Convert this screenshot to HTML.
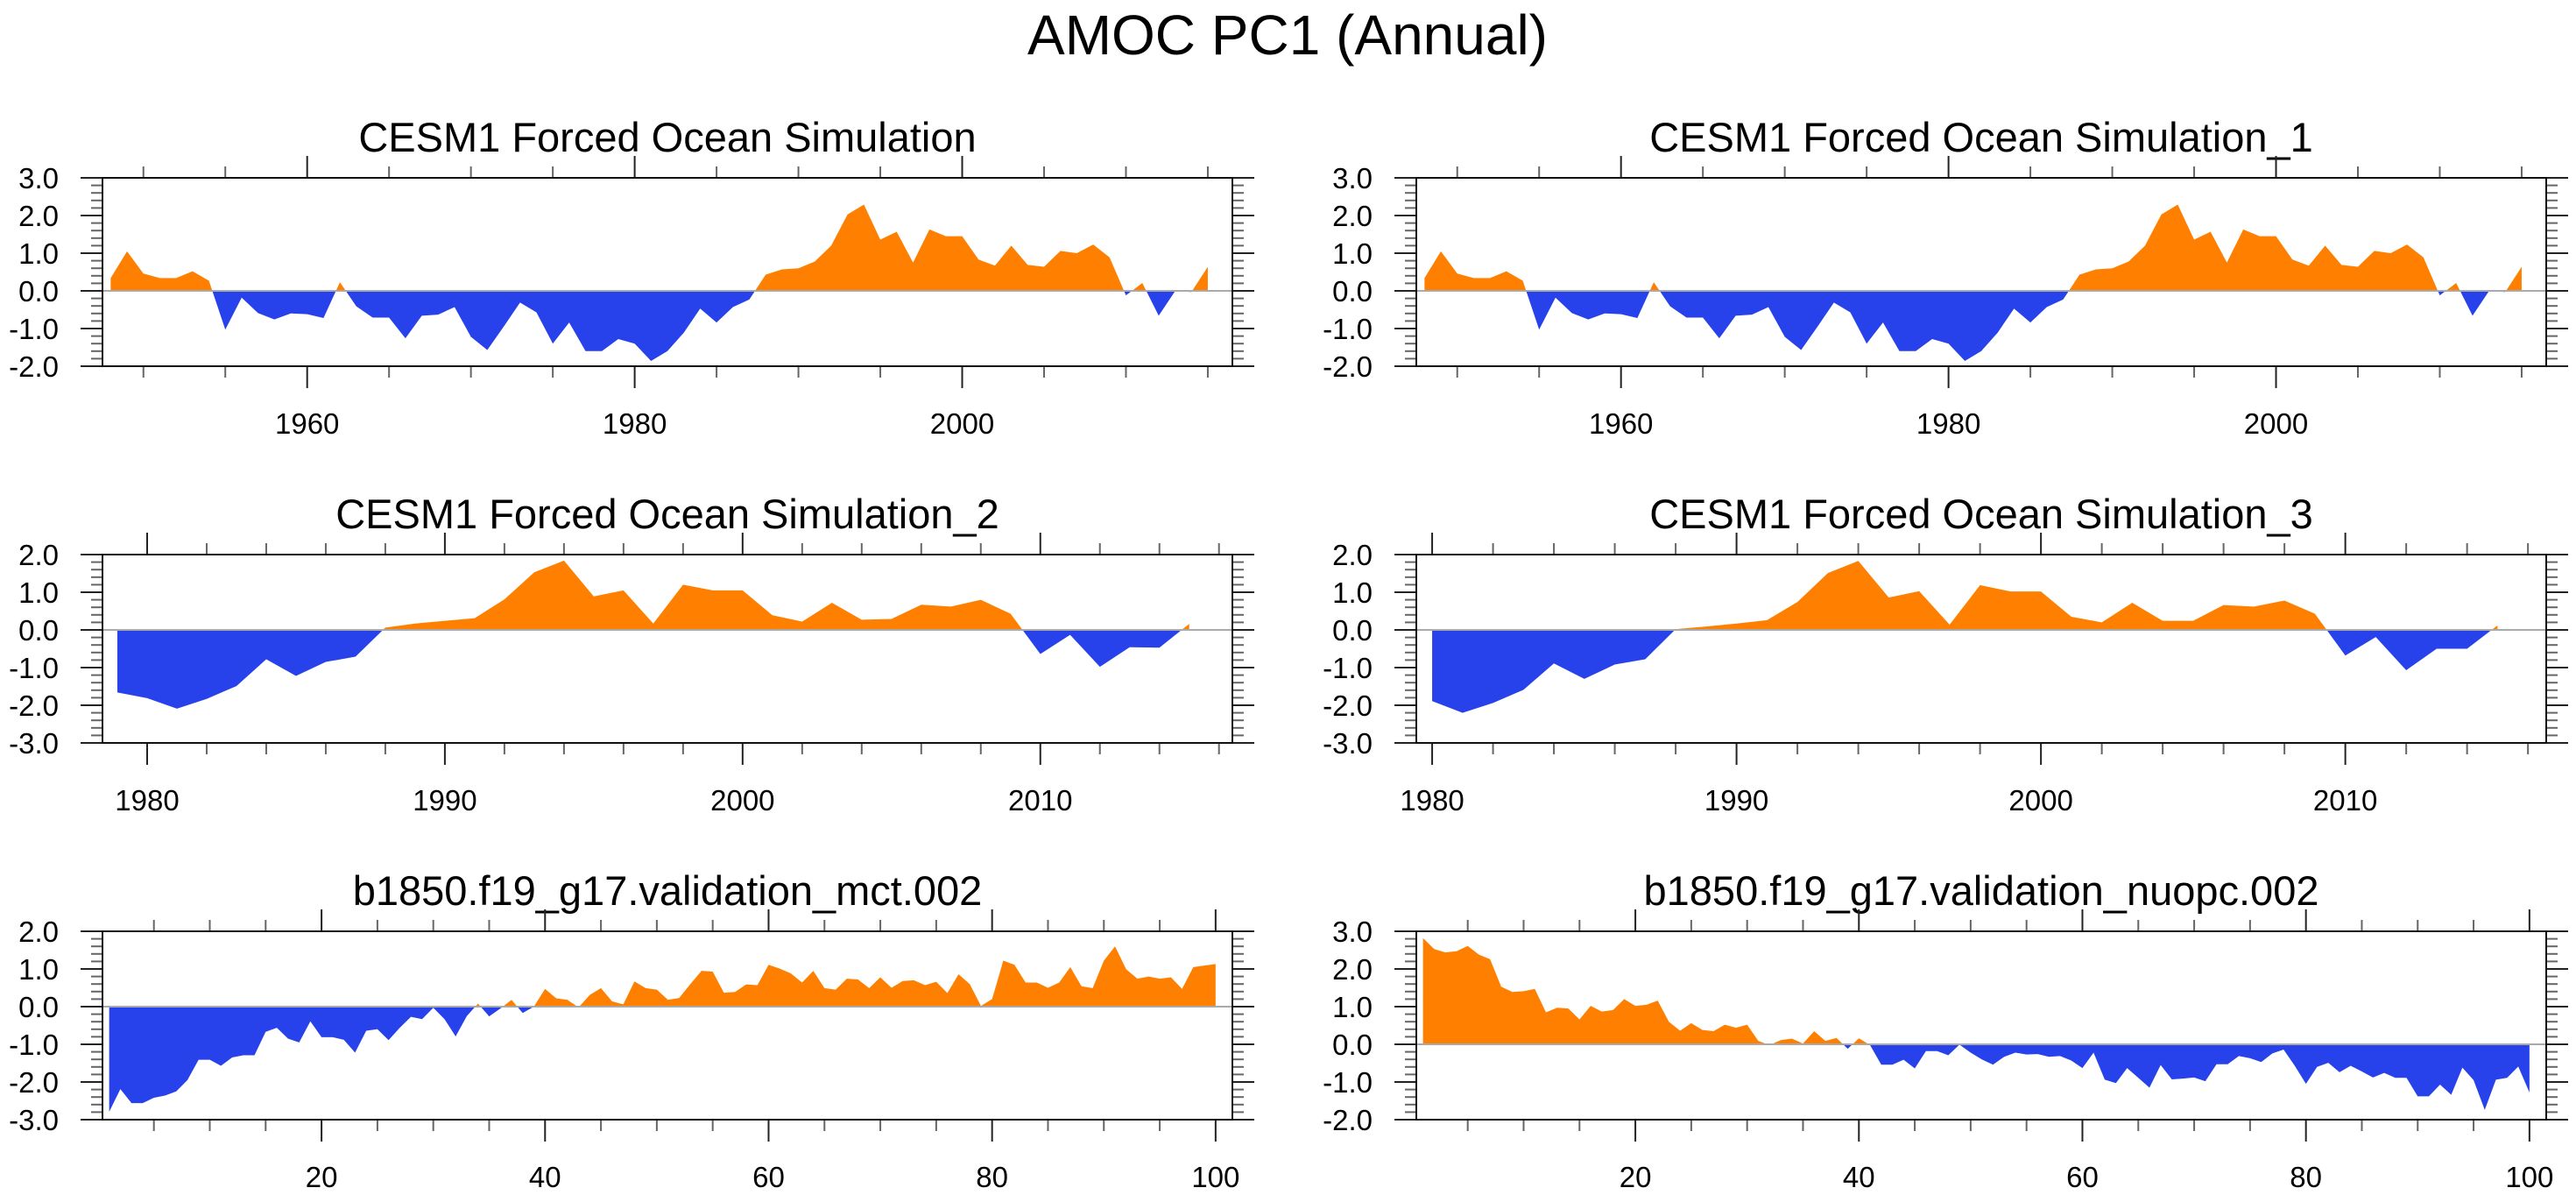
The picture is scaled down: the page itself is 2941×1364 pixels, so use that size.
<!DOCTYPE html>
<html><head><meta charset="utf-8"><style>
html,body{margin:0;padding:0;background:#fff;}
svg{display:block;font-family:"Liberation Sans",sans-serif;}
</style></head><body>
<svg id="chart" width="2941" height="1364" viewBox="0 0 2941 1364" xmlns="http://www.w3.org/2000/svg">
<rect width="2941" height="1364" fill="#fff"/>
<text x="1470" y="62" font-size="64" text-anchor="middle" fill="#000">AMOC PC1 (Annual)</text>
</svg>
<script>
const years1 = [];
for (let y = 1948; y <= 2015; y++) years1.push(y);
const values1 = [0.34,1.05,0.46,0.34,0.34,0.52,0.27,-1.03,-0.18,-0.59,-0.76,-0.6,-0.62,-0.72,0.23,-0.41,-0.71,-0.71,-1.26,-0.66,-0.63,-0.43,-1.22,-1.57,-0.95,-0.31,-0.57,-1.4,-0.84,-1.6,-1.6,-1.28,-1.4,-1.86,-1.6,-1.11,-0.47,-0.84,-0.43,-0.23,0.43,0.57,0.6,0.78,1.2,2.03,2.29,1.36,1.57,0.75,1.63,1.45,1.45,0.83,0.67,1.2,0.69,0.64,1.06,1.0,1.23,0.89,-0.12,0.21,-0.66,-0.01,-0.03,0.64];
const values1b = [0.34,1.05,0.46,0.34,0.34,0.52,0.27,-1.03,-0.18,-0.59,-0.76,-0.6,-0.62,-0.72,0.23,-0.41,-0.71,-0.71,-1.26,-0.66,-0.63,-0.43,-1.22,-1.57,-0.95,-0.31,-0.57,-1.4,-0.84,-1.6,-1.6,-1.28,-1.4,-1.86,-1.6,-1.11,-0.47,-0.84,-0.43,-0.23,0.43,0.57,0.6,0.78,1.2,2.03,2.29,1.36,1.57,0.75,1.63,1.45,1.45,0.83,0.67,1.2,0.69,0.64,1.06,1.0,1.23,0.89,-0.12,0.21,-0.66,-0.01,-0.03,0.64];
const years2 = [];
for (let y = 1979; y <= 2015; y++) years2.push(y);
const values2 = [-1.66,-1.81,-2.09,-1.83,-1.49,-0.78,-1.22,-0.85,-0.71,0.06,0.17,0.24,0.31,0.81,1.53,1.84,0.89,1.05,0.17,1.2,1.05,1.05,0.39,0.22,0.72,0.27,0.29,0.67,0.62,0.8,0.43,-0.64,-0.13,-0.98,-0.46,-0.47,0.16];
const years3 = [];
for (let y = 1980; y <= 2015; y++) years3.push(y);
const values3 = [-1.89,-2.2,-1.94,-1.59,-0.89,-1.3,-0.92,-0.78,0.02,0.09,0.17,0.26,0.74,1.51,1.83,0.86,1.03,0.14,1.19,1.02,1.02,0.35,0.2,0.72,0.24,0.24,0.66,0.62,0.78,0.43,-0.68,-0.19,-1.07,-0.5,-0.5,0.12];
const steps = [];
for (let i = 1; i <= 100; i++) steps.push(i);
const values4 = [-2.79,-2.19,-2.56,-2.56,-2.42,-2.36,-2.25,-1.95,-1.41,-1.41,-1.57,-1.35,-1.29,-1.29,-0.67,-0.56,-0.85,-0.95,-0.39,-0.81,-0.81,-0.88,-1.22,-0.64,-0.6,-0.89,-0.56,-0.27,-0.33,-0.03,-0.33,-0.79,-0.25,0.08,-0.26,-0.05,0.18,-0.17,0.0,0.47,0.22,0.18,-0.02,0.31,0.49,0.14,0.06,0.67,0.49,0.45,0.18,0.23,0.6,0.95,0.93,0.37,0.39,0.59,0.57,1.11,1.01,0.88,0.64,0.95,0.49,0.45,0.74,0.72,0.49,0.78,0.5,0.68,0.7,0.57,0.66,0.36,0.86,0.6,0.02,0.2,1.22,1.11,0.64,0.64,0.5,0.64,1.05,0.54,0.49,1.22,1.6,0.99,0.74,0.8,0.74,0.78,0.47,1.05,1.09,1.13];
const values5 = [2.82,2.53,2.44,2.47,2.61,2.38,2.26,1.53,1.39,1.41,1.47,0.85,0.97,0.95,0.66,1.02,0.87,0.91,1.2,1.02,1.05,1.16,0.6,0.36,0.56,0.38,0.35,0.52,0.44,0.52,0.09,-0.02,0.11,0.15,0.02,0.35,0.09,0.17,-0.12,0.16,-0.02,-0.54,-0.54,-0.41,-0.64,-0.18,-0.18,-0.29,-0.01,-0.22,-0.4,-0.54,-0.33,-0.22,-0.27,-0.26,-0.33,-0.31,-0.43,-0.63,-0.22,-0.94,-1.03,-0.63,-0.89,-1.15,-0.55,-0.93,-0.91,-0.88,-0.98,-0.53,-0.53,-0.31,-0.37,-0.47,-0.24,-0.14,-0.57,-1.05,-0.6,-0.49,-0.74,-0.57,-0.72,-0.88,-0.76,-0.89,-0.89,-1.38,-1.38,-1.07,-1.34,-0.62,-0.95,-1.74,-0.94,-0.89,-0.59,-1.28];
const titles = ["CESM1 Forced Ocean Simulation","CESM1 Forced Ocean Simulation_1","CESM1 Forced Ocean Simulation_2","CESM1 Forced Ocean Simulation_3","b1850.f19_g17.validation_mct.002","b1850.f19_g17.validation_nuopc.002"];

const NS = "http://www.w3.org/2000/svg";
const svg = document.getElementById('chart');
function mk(tag, attrs, parent) {
  const e = document.createElementNS(NS, tag);
  for (const k in attrs) e.setAttribute(k, attrs[k]);
  (parent || svg).appendChild(e);
  return e;
}
const panels = [
  {x0:117, top:203, xs:years1, ys:values1, xmin:1947.5, xmax:2016.5, ymin:-2, ymax:3, major:20, minor:5, first:1960, name:'panel-forced-ocean'},
  {x0:1617, top:203, xs:years1, ys:values1b, xmin:1947.5, xmax:2016.5, ymin:-2, ymax:3, major:20, minor:5, first:1960, name:'panel-forced-ocean-1'},
  {x0:117, top:633, xs:years2, ys:values2, xmin:1978.5, xmax:2016.45, ymin:-3, ymax:2, major:10, minor:2, first:1980, name:'panel-forced-ocean-2'},
  {x0:1617, top:633, xs:years3, ys:values3, xmin:1979.48, xmax:2016.6, ymin:-3, ymax:2, major:10, minor:2, first:1980, name:'panel-forced-ocean-3'},
  {x0:117, top:1063, xs:steps, ys:values4, xmin:0.4, xmax:101.5, ymin:-3, ymax:2, major:20, minor:5, first:20, name:'panel-validation-mct'},
  {x0:1617, top:1063, xs:steps, ys:values5, xmin:0.4, xmax:101.5, ymin:-2, ymax:3, major:20, minor:5, first:20, name:'panel-validation-nuopc'}
];
const W = 1290, H = 215;
panels.forEach((p, pi) => {
  const g = mk('g', {});
  
  
  const sx = v => p.x0 + (v - p.xmin) / (p.xmax - p.xmin) * W;
  const sy = v => p.top + (p.ymax - v) / (p.ymax - p.ymin) * H;
  const y0 = sy(0);
  const t = mk('text', {x: p.x0 + W/2, y: p.top - 30, 'font-size': 47, 'text-anchor': 'middle', fill: '#000'}, g);
  t.textContent = titles[pi];
  
  
  // clip paths
  const defs = mk('defs', {}, g);
  const cpU = mk('clipPath', {id: 'cu' + pi}, defs);
  mk('rect', {x: p.x0, y: p.top, width: W, height: y0 - p.top}, cpU);
  const cpD = mk('clipPath', {id: 'cd' + pi}, defs);
  mk('rect', {x: p.x0, y: y0, width: W, height: p.top + H - y0}, cpD);
  let d = 'M' + sx(p.xs[0]) + ',' + y0;
  p.xs.forEach((xv, i) => { d += ' L' + sx(xv).toFixed(2) + ',' + sy(p.ys[i]).toFixed(2); });
  d += ' L' + sx(p.xs[p.xs.length - 1]) + ',' + y0 + ' Z';
  const pos = mk('path', {d: d, fill: '#FF8000', 'clip-path': 'url(#cu' + pi + ')'}, g);
  
  
  const neg = mk('path', {d: d, fill: '#2742EA', 'clip-path': 'url(#cd' + pi + ')'}, g);
  
  
  const zl = mk('line', {x1: p.x0, x2: p.x0 + W, y1: y0, y2: y0, stroke: '#aaa', 'stroke-width': 2}, g);
  
  
  // y ticks
  for (let k = Math.round(p.ymin * 5); k <= Math.round(p.ymax * 5); k++) {
    const v = k / 5, yy = sy(v);
    const isMaj = k % 5 === 0, len = isMaj ? 25 : 13;
    mk('line', {x1: p.x0 - len, x2: p.x0, y1: yy, y2: yy, stroke: isMaj ? '#222' : '#666', 'stroke-width': 2}, g);
    mk('line', {x1: p.x0 + W, x2: p.x0 + W + len, y1: yy, y2: yy, stroke: isMaj ? '#222' : '#666', 'stroke-width': 2}, g);
    if (isMaj) {
      const tl = mk('text', {x: p.x0 - 50, y: yy + 12, 'font-size': 33, 'text-anchor': 'end', fill: '#000'}, g);
      tl.textContent = v.toFixed(1);
      
      
    }
  }
  // x ticks
  const start = Math.ceil(p.xmin / p.minor) * p.minor;
  for (let v = start; v <= p.xmax; v += p.minor) {
    const xx = sx(v);
    const isMaj = (v % p.major) === 0 && v >= p.first;
    const len = isMaj ? 25 : 13;
    mk('line', {x1: xx, x2: xx, y1: p.top - len, y2: p.top, stroke: isMaj ? '#222' : '#666', 'stroke-width': 2}, g);
    mk('line', {x1: xx, x2: xx, y1: p.top + H, y2: p.top + H + len, stroke: isMaj ? '#222' : '#666', 'stroke-width': 2}, g);
    if (isMaj) {
      const tl = mk('text', {x: xx, y: p.top + H + 77, 'font-size': 33, 'text-anchor': 'middle', fill: '#000'}, g);
      tl.textContent = String(v);
      
      
    }
  }
  const fr = mk('rect', {x: p.x0, y: p.top, width: W, height: H, fill: 'none', stroke: '#111', 'stroke-width': 2}, g);
  
  
});
</script>
</body></html>
